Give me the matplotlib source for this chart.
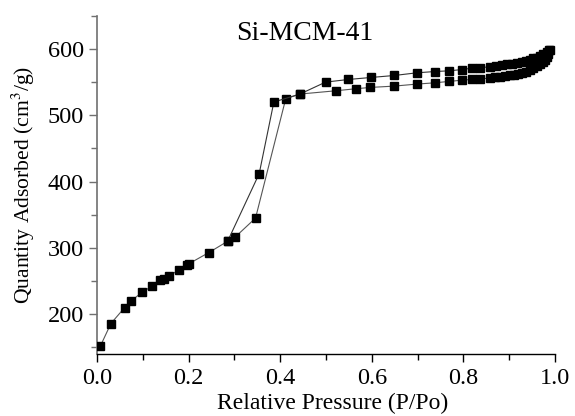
import matplotlib
matplotlib.use("Agg")
import matplotlib.pyplot as plt
from matplotlib.ticker import MultipleLocator

# adsorption branch (lower part of hysteresis)
ads_p = [0.007, 0.030, 0.060, 0.074, 0.098, 0.119, 0.138, 0.145, 0.158, 0.179,
         0.197, 0.200, 0.244, 0.285, 0.301, 0.346, 0.412, 0.443, 0.522, 0.565,
         0.597, 0.649, 0.698, 0.738, 0.768, 0.798, 0.818, 0.837, 0.858, 0.870,
         0.880, 0.891, 0.902, 0.911, 0.920, 0.929, 0.938, 0.946, 0.953, 0.960,
         0.967, 0.973, 0.978, 0.983, 0.986, 0.990]
ads_q = [152, 186, 210, 220, 233, 242, 251, 253, 258, 267,
         274, 276, 293, 310, 316, 345, 525, 532, 537, 540,
         542, 544, 547, 549, 551, 553, 554, 555, 556, 557,
         558, 559, 560, 561, 563, 564, 566, 568, 571, 574,
         577, 580, 584, 588, 592, 598]

# desorption branch (upper part of hysteresis)
des_p = [0.988, 0.982, 0.975, 0.967, 0.960, 0.953, 0.945, 0.937, 0.928, 0.918,
         0.907, 0.895, 0.884, 0.872, 0.858, 0.837, 0.818, 0.798, 0.768, 0.738,
         0.698, 0.649, 0.598, 0.549, 0.499, 0.443, 0.386, 0.354, 0.285]
des_q = [598, 596, 592, 589, 587, 586, 584, 582, 581, 579,
         578, 577, 576, 574, 573, 572, 571, 569, 567, 566,
         564, 560, 557, 554, 550, 532, 520, 412, 310]

plt.rcParams["font.family"] = ["Liberation Serif", "DejaVu Serif"]
plt.rcParams["mathtext.fontset"] = "stix"

fig = plt.figure(figsize=(5.75, 4.16), dpi=100)
ax = fig.add_axes([0.169, 0.149, 0.796, 0.813])

for p, q, c in [(ads_p, ads_q, "#555555"), (des_p, des_q, "#333333")]:
    ax.plot(p, q, color=c, lw=0.8, marker="s", ms=5.5,
            mfc="black", mec="black", zorder=3)

ax.set_xlim(0, 1.0)
ax.set_ylim(140, 650)
ax.xaxis.set_major_locator(MultipleLocator(0.2))
ax.xaxis.set_minor_locator(MultipleLocator(0.1))
ax.yaxis.set_major_locator(MultipleLocator(100))
ax.yaxis.set_minor_locator(MultipleLocator(50))
ax.xaxis.set_major_formatter(plt.FuncFormatter(lambda v, _: f"{v:.1f}"))

for s in ("top", "right"):
    ax.spines[s].set_visible(False)
ax.spines["left"].set_color("#707070")
ax.spines["left"].set_linewidth(1.2)
ax.spines["bottom"].set_linewidth(1.0)

ax.tick_params(axis="both", which="major", labelsize=17.5, direction="out",
               length=6, width=1)
ax.tick_params(axis="both", which="minor", direction="out", length=4, width=1)
ax.tick_params(axis="y", which="both", color="#707070")
ax.tick_params(axis="x", pad=4)

ax.set_xlabel("Relative Pressure (P/Po)", fontsize=17, labelpad=1)
ax.xaxis.set_label_coords(0.515, -0.115)
ax.set_ylabel("Quantity Adsorbed (cm$^3$/g)", fontsize=15.6, labelpad=8)
ax.text(0.454, 0.985, "Si-MCM-41", transform=ax.transAxes, fontsize=20,
        ha="center", va="top")

fig.savefig("out.png", dpi=100)
